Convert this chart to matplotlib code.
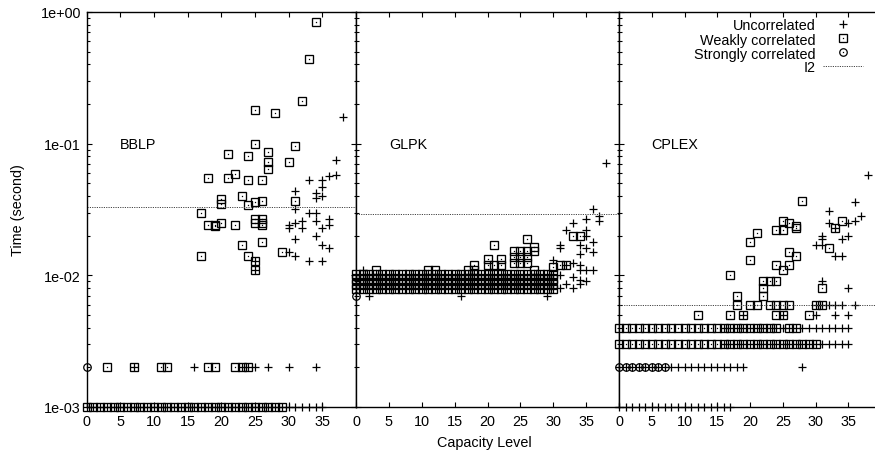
import matplotlib.pyplot as plt
from matplotlib.lines import Line2D
from matplotlib.ticker import LogLocator, NullFormatter, FixedLocator

plt.rcParams['font.family'] = ['Liberation Sans', 'DejaVu Sans']
plt.rcParams['font.size'] = 10.4

# Data ----------------------------------------------------------------------------------
# rows of repeated timings (timing -> capacity levels), plus scattered points

# BBLP
bblp_unc_rows = {0.001: [0, 1, 2, 3, 4, 5, 6, 7, 8, 9, 10, 11, 12, 13, 14, 15, 16, 17, 18, 19, 20,
                         21, 22, 23, 24, 25, 26, 27, 28, 29, 30, 31, 32, 33, 34, 35],
                 0.002: [7, 16, 23, 24, 25, 27, 30, 34]}
bblp_unc_x = [38, 37, 37, 36, 35, 35, 33, 31, 34, 34, 35, 31, 33, 34, 36, 34, 32, 31, 30, 30,
              35, 36, 32, 31, 34, 35, 36, 30, 31, 33, 35, 25, 25]
bblp_unc_y = [0.16, 0.075, 0.058, 0.057, 0.053, 0.047, 0.053, 0.044, 0.042, 0.039, 0.040, 0.032,
              0.030, 0.030, 0.027, 0.026, 0.026, 0.025, 0.024, 0.023, 0.023, 0.024, 0.023, 0.019,
              0.020, 0.017, 0.016, 0.015, 0.014, 0.0129, 0.0129, 0.0129, 0.011]
bblp_weak_rows = {0.001: [0, 1, 2, 3, 4, 5, 6, 7, 8, 9, 10, 11, 12, 13, 14, 15, 16, 17, 18, 19,
                          20, 21, 22, 23, 24, 25, 26, 27, 28, 29],
                  0.002: [3, 7, 11, 12, 18, 19, 22, 23, 24]}
bblp_weak_x = [34, 33, 32, 25, 28, 25, 31, 21, 24, 27, 27, 27, 30, 18, 21, 22, 24, 26, 20, 20,
               23, 24, 25, 26, 31, 17, 18, 19, 19, 20, 22, 25, 26, 25, 26, 26, 23, 26, 24, 25,
               25, 17, 29]
bblp_weak_y = [0.84, 0.44, 0.21, 0.18, 0.17, 0.10, 0.096, 0.083, 0.081, 0.086, 0.072, 0.064,
               0.073, 0.055, 0.055, 0.059, 0.053, 0.053, 0.038, 0.035, 0.040, 0.034, 0.036,
               0.037, 0.037, 0.030, 0.024, 0.024, 0.0235, 0.0248, 0.024, 0.027, 0.027, 0.025,
               0.025, 0.024, 0.017, 0.018, 0.014, 0.0129, 0.011, 0.014, 0.015]
bblp_strong_x = [0]
bblp_strong_y = [0.002]
bblp_i2 = 0.033

# GLPK
glpk_band = [0.0102, 0.0094, 0.0086, 0.0079]
glpk_unc_rows = {t: [0, 1, 2, 3, 4, 5, 6, 7, 8, 9, 10, 11, 12, 13, 14, 15, 16, 17, 18, 19, 20,
                     21, 22, 23, 24, 25, 26, 27, 28, 29, 30] for t in glpk_band}
glpk_unc_x = [1, 2, 16, 29, 38, 36, 35, 37, 37, 33, 32, 35, 35, 36, 34, 35, 36, 31, 31, 34, 30,
              32, 33, 34, 34, 35, 36, 31, 33, 34, 35, 31, 33, 32, 34]
glpk_unc_y = [0.011, 0.007, 0.007, 0.007, 0.071, 0.032, 0.027, 0.028, 0.026, 0.025, 0.022,
              0.022, 0.020, 0.018, 0.017, 0.016, 0.015, 0.017, 0.016, 0.0145, 0.013, 0.012,
              0.0123, 0.012, 0.011, 0.011, 0.011, 0.010, 0.0097, 0.0092, 0.009, 0.008, 0.008,
              0.0086, 0.0086]
glpk_weak_rows = {t: [0, 1, 2, 3, 4, 5, 6, 7, 8, 9, 10, 11, 12, 13, 14, 15, 16, 17, 18, 19, 20,
                      21, 22, 23, 24, 25, 26, 27, 28, 29, 30] for t in glpk_band}
glpk_weak_x = [3, 11, 12, 17, 18, 18, 20, 20, 21, 21, 22, 22, 24, 24, 24, 25, 25, 25, 26, 26,
               26, 26, 27, 27, 27, 30, 31, 32, 33, 34]
glpk_weak_y = [0.011, 0.011, 0.011, 0.011, 0.012, 0.011, 0.0133, 0.012, 0.017, 0.012, 0.0133,
               0.012, 0.0153, 0.0137, 0.0125, 0.0153, 0.0137, 0.0125, 0.019, 0.0153, 0.0137,
               0.0125, 0.0163, 0.0153, 0.011, 0.0115, 0.012, 0.012, 0.020, 0.020]
glpk_strong_x = [0]
glpk_strong_y = [0.007]
glpk_i2 = 0.029

# CPLEX
cplex_unc_rows = {0.001: [0, 1, 2, 3, 4, 5, 6, 7, 8, 9, 10, 11, 12, 13, 14, 15, 16, 17],
                  0.002: [0, 1, 2, 3, 4, 5, 6, 7, 8, 9, 10, 11, 12, 13, 14, 15, 16, 17, 18, 19, 28],
                  0.003: [16, 17, 18, 19, 20, 21, 22, 23, 24, 25, 26, 27, 28, 29, 30, 31, 32, 33,
                          34, 35],
                  0.004: [16, 17, 18, 19, 20, 21, 22, 23, 24, 25, 26, 27, 28, 29, 30, 31, 32, 33,
                          34, 35],
                  0.005: [19, 25, 30, 33, 35],
                  0.006: [30, 31, 32, 33, 34, 36]}
cplex_unc_x = [38, 36, 32, 32, 33, 34, 35, 35, 36, 37, 31, 31, 30, 31, 33, 34, 31, 35]
cplex_unc_y = [0.058, 0.036, 0.031, 0.025, 0.023, 0.019, 0.020, 0.025, 0.026, 0.028, 0.020,
               0.019, 0.017, 0.017, 0.014, 0.014, 0.009, 0.008]
cplex_weak_rows = {0.003: [0, 1, 2, 3, 4, 5, 6, 7, 8, 9, 10, 11, 12, 13, 14, 15, 16, 17, 18, 19,
                           20, 21, 22, 23, 24, 25, 26, 27, 28, 29, 30],
                   0.004: [0, 1, 2, 3, 4, 5, 6, 7, 8, 9, 10, 11, 12, 13, 14, 15, 16, 17, 18, 19,
                           20, 21, 22, 23, 24, 26, 27],
                   0.005: [12, 17, 19, 24, 25, 29],
                   0.006: [18, 20, 21, 23, 24, 25, 26, 30, 31]}
cplex_weak_x = [18, 17, 22, 23, 24, 22, 22, 20, 20, 21, 24, 25, 26, 26, 27, 24, 25, 27, 27, 26,
                25, 28, 31, 32, 33, 34]
cplex_weak_y = [0.007, 0.010, 0.009, 0.009, 0.009, 0.008, 0.007, 0.013, 0.018, 0.021, 0.012,
                0.011, 0.012, 0.015, 0.014, 0.022, 0.022, 0.0227, 0.0238, 0.0248, 0.026, 0.037,
                0.008, 0.016, 0.023, 0.026]
cplex_strong_rows = {0.002: [0, 1, 2, 3, 4, 5, 6, 7]}
cplex_i2 = 0.006

panels = [
    ('BBLP', bblp_unc_rows, bblp_unc_x, bblp_unc_y, bblp_weak_rows, bblp_weak_x, bblp_weak_y,
     {}, bblp_strong_x, bblp_strong_y, bblp_i2),
    ('GLPK', glpk_unc_rows, glpk_unc_x, glpk_unc_y, glpk_weak_rows, glpk_weak_x, glpk_weak_y,
     {}, glpk_strong_x, glpk_strong_y, glpk_i2),
    ('CPLEX', cplex_unc_rows, cplex_unc_x, cplex_unc_y, cplex_weak_rows, cplex_weak_x,
     cplex_weak_y, cplex_strong_rows, [], [], cplex_i2),
]

def expand(rows, xs, ys):
    px, py = [], []
    for t, levels in rows.items():
        px += levels
        py += [t] * len(levels)
    return px + list(xs), py + list(ys)

# Figure --------------------------------------------------------------------------------
W, H = 875, 456
fig = plt.figure(figsize=(W / 100, H / 100), dpi=100)
edges = [86.6, 356, 619, 881]
top, bottom = 13, 408

plus_kw = dict(ls='none', marker='+', ms=5.8, mew=0.9, color='black')
sq_kw = dict(ls='none', marker='s', ms=5.2, mfc='none', mec='black', mew=0.95)
circ_kw = dict(ls='none', marker='o', ms=5.4, mfc='none', mec='black', mew=0.9)
dot_kw = dict(ls='none', marker='s', ms=0.9, mfc='black', mew=0)
i2_kw = dict(color='#444444', lw=0.7, ls=(0, (1.2, 1.2)))

axes = []
for k, (name, ur, ux, uy, wr, wx, wy, sr, sx, sy, i2) in enumerate(panels):
    x0, x1 = edges[k], edges[k + 1]
    ax = fig.add_axes([x0 / W, 1 - bottom / H, (x1 - x0) / W, (bottom - top) / H])
    axes.append(ax)
    ax.set_yscale('log')
    ax.set_ylim(1e-3, 1)
    ax.set_xlim(0, 40)

    xu, yu = expand(ur, ux, uy)
    ax.plot(xu, yu, clip_on=False, **plus_kw)
    xw, yw = expand(wr, wx, wy)
    ax.plot(xw, yw, clip_on=False, **sq_kw)
    ax.plot(xw, yw, clip_on=False, **dot_kw)
    xs, ys = expand(sr, sx, sy)
    ax.plot(xs, ys, clip_on=False, **circ_kw)
    ax.plot(xs, ys, clip_on=False, **dot_kw)

    ax.axhline(i2, **i2_kw)
    ax.text(5, 0.1, name, va='center', ha='left')

    ax.xaxis.set_major_locator(FixedLocator([0, 5, 10, 15, 20, 25, 30, 35]))
    ax.yaxis.set_major_locator(LogLocator(base=10, numticks=10))
    ax.yaxis.set_minor_locator(LogLocator(base=10, subs=range(2, 10), numticks=10))
    ax.yaxis.set_minor_formatter(NullFormatter())
    ax.tick_params(which='both', direction='in', top=True, right=True, width=0.8, color='black')
    ax.tick_params(which='major', length=3.6)
    ax.tick_params(which='minor', length=1.8)
    ax.tick_params(axis='x', pad=5)
    ax.tick_params(axis='y', pad=4)
    for s in ax.spines.values():
        s.set_linewidth(1.0)
    if k == 0:
        ax.set_yticks([1e-3, 1e-2, 1e-1, 1e0], ['1e-03', '1e-02', '1e-01', '1e+00'])
    else:
        ax.set_yticklabels([])

fig.text(18 / W, 1 - 210 / H, 'Time (second)', rotation=90, ha='center', va='center')
fig.text(484 / W, 1 - 443 / H, 'Capacity Level', ha='center', va='center')

handles = [
    Line2D([], [], **plus_kw),
    (Line2D([], [], **sq_kw), Line2D([], [], **dot_kw)),
    (Line2D([], [], **circ_kw), Line2D([], [], **dot_kw)),
    Line2D([], [], **i2_kw),
]
labels = ['Uncorrelated', 'Weakly correlated', 'Strongly correlated', 'I2']
fig.legend(handles, labels, loc='upper right', bbox_to_anchor=(863 / W, 1 - 19.5 / H),
           frameon=False, markerfirst=False, handlelength=2.75, handletextpad=0.55,
           borderpad=0, borderaxespad=0, labelspacing=0.0, numpoints=1)

fig.savefig('out.png', dpi=100)
